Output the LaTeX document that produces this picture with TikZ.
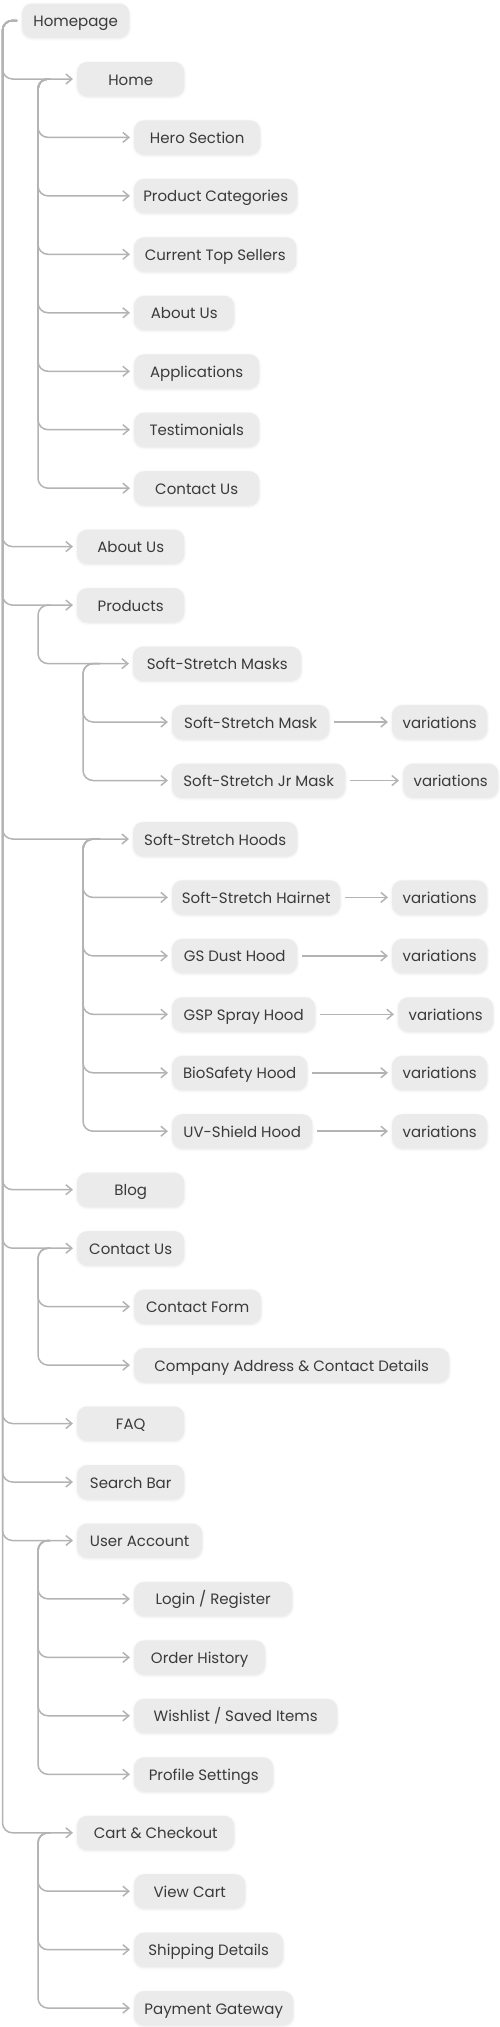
\documentclass[tikz,border=0pt]{standalone}
\usepackage{fontspec}
\setmainfont{Poppins}
\definecolor{MapFill}{HTML}{EBEBEB}
\definecolor{MapLine}{HTML}{B3B3B3}
\definecolor{MapText}{HTML}{3A3A3A}
\usetikzlibrary{arrows.meta,shadows.blur}
\tikzset{
  item/.style={fill=MapFill, rounded corners=10pt, anchor=west, minimum height=34pt, inner xsep=0pt, text height=12pt, text depth=0pt, text=MapText, font=\fontsize{15}{18}\selectfont, blur shadow={shadow xshift=0pt, shadow yshift=-1pt, shadow blur radius=2.5pt, shadow opacity=10}},
  link/.style={draw=MapLine, line width=1.5pt, rounded corners=10pt, -{Straight Barb[length=6pt,width=10pt]}, shorten >=4pt},
  next/.style={link, shorten <=5pt}
}

\begin{document}
\begin{tikzpicture}[x=1pt, y=-1pt]
    \useasboundingbox (0,0) rectangle (500,2027);

    % root and first level
    \node[item, minimum width=107] (hp) at (22,20.5) {Homepage};
    \node[item, minimum width=107] (home) at (77,79.0) {Home};
    \node[item, minimum width=107] (aboutus) at (77,546.6) {About Us};
    \node[item, minimum width=107] (products) at (77,605.1) {Products};
    \node[item, minimum width=164] (hoods) at (133,839.0) {Soft-Stretch Hoods};
    \node[item, minimum width=107] (blog) at (77,1189.7) {Blog};
    \node[item, minimum width=107] (contactus) at (77,1248.2) {Contact Us};
    \node[item, minimum width=107] (faq) at (77,1423.5) {FAQ};
    \node[item, minimum width=107] (search) at (77,1482.0) {Search Bar};
    \node[item, minimum width=125] (account) at (77,1540.5) {User Account};
    \node[item, minimum width=157] (cart) at (77,1832.8) {Cart \& Checkout};

    % home sections
    \node[item, minimum width=126] (hero) at (134,137.4) {Hero Section};
    \node[item, minimum width=163] (prodcat) at (134,195.9) {Product Categories};
    \node[item, minimum width=162] (topsell) at (134,254.3) {Current Top Sellers};
    \node[item, minimum width=100] (about) at (134,312.8) {About Us};
    \node[item, minimum width=125] (apps) at (134,371.3) {Applications};
    \node[item, minimum width=125] (testi) at (134,429.7) {Testimonials};
    \node[item, minimum width=125] (contact) at (134,488.2) {Contact Us};

    % products
    \node[item, minimum width=168] (masks) at (133,663.6) {Soft-Stretch Masks};
    \node[item, minimum width=157] (mask) at (172,722.0) {Soft-Stretch Mask};
    \node[item, minimum width=95] (var1) at (392,722.0) {variations};
    \node[item, minimum width=173] (jrmask) at (172,780.5) {Soft-Stretch Jr Mask};
    \node[item, minimum width=95] (var2) at (403,780.5) {variations};
    \node[item, minimum width=168] (hairnet) at (172,897.4) {Soft-Stretch Hairnet};
    \node[item, minimum width=95] (var3) at (392,897.4) {variations};
    \node[item, minimum width=125] (dust) at (172,955.9) {GS Dust Hood};
    \node[item, minimum width=95] (var4) at (392,955.9) {variations};
    \node[item, minimum width=143] (spray) at (172,1014.3) {GSP Spray Hood};
    \node[item, minimum width=95] (var5) at (398,1014.3) {variations};
    \node[item, minimum width=135] (bio) at (172,1072.8) {BioSafety Hood};
    \node[item, minimum width=95] (var6) at (392,1072.8) {variations};
    \node[item, minimum width=140] (uv) at (172,1131.2) {UV-Shield Hood};
    \node[item, minimum width=95] (var7) at (392,1131.2) {variations};

    % contact, account, cart
    \node[item, minimum width=127] (form) at (134,1306.6) {Contact Form};
    \node[item, minimum width=315] (address) at (134,1365.1) {Company Address \& Contact Details};
    \node[item, minimum width=158] (login) at (134,1598.9) {Login / Register};
    \node[item, minimum width=131] (orders) at (134,1657.4) {Order History};
    \node[item, minimum width=203] (wish) at (134,1715.8) {Wishlist / Saved Items};
    \node[item, minimum width=139] (profile) at (134,1774.3) {Profile Settings};
    \node[item, minimum width=111] (viewcart) at (134,1891.2) {View Cart};
    \node[item, minimum width=149] (ship) at (134,1949.7) {Shipping Details};
    \node[item, minimum width=159] (pay) at (134,2008.1) {Payment Gateway};

    % trunks
    \foreach \c in {home,aboutus,products,hoods,blog,contactus,faq,search,account,cart}
      \draw[link] ([xshift=-5pt]hp.west) -- ([xshift=-19.5pt]hp.west) |- (\c);
    \foreach \c in {hero,prodcat,topsell,about,apps,testi,contact}
      \draw[link] ([xshift=-27pt]home.west) -- ([xshift=-39pt]home.west) |- (\c);
    \draw[link] ([xshift=-27pt]products.west) -- ([xshift=-39pt]products.west) |- (masks);
    \foreach \c in {mask,jrmask}
      \draw[link] ([xshift=-33pt]masks.west) -- ([xshift=-50pt]masks.west) |- (\c);
    \foreach \c in {hairnet,dust,spray,bio,uv}
      \draw[link] ([xshift=-33pt]hoods.west) -- ([xshift=-50pt]hoods.west) |- (\c);
    \foreach \c in {form,address}
      \draw[link] ([xshift=-27pt]contactus.west) -- ([xshift=-39pt]contactus.west) |- (\c);
    \foreach \c in {login,orders,wish,profile}
      \draw[link] ([xshift=-27pt]account.west) -- ([xshift=-39pt]account.west) |- (\c);
    \foreach \c in {viewcart,ship,pay}
      \draw[link] ([xshift=-27pt]cart.west) -- ([xshift=-39pt]cart.west) |- (\c);

    % variations
    \draw[next] (mask) -- (var1);
    \draw[next] (jrmask) -- (var2);
    \draw[next] (hairnet) -- (var3);
    \draw[next] (dust) -- (var4);
    \draw[next] (spray) -- (var5);
    \draw[next] (bio) -- (var6);
    \draw[next] (uv) -- (var7);
  \end{tikzpicture}
\end{document}
